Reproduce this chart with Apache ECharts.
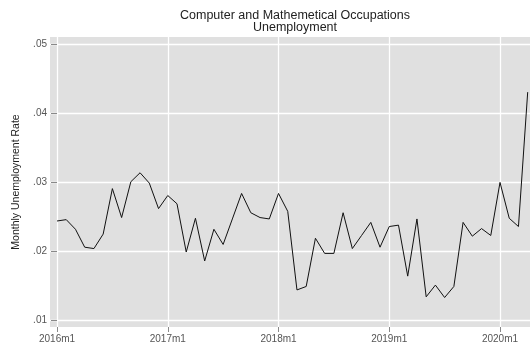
<!DOCTYPE html>
<html>
<head>
<meta charset="utf-8">
<style>
  html, body { margin: 0; padding: 0; background: #ffffff; }
  #chart { width: 530px; height: 349px; }
</style>
<script src="https://cdn.jsdelivr.net/npm/echarts@6/dist/echarts.min.js"></script>
</head>
<body>
<div id="chart"></div>
<script>
// Monthly periods 2016m1 .. 2020m4
const years = [2016, 2017, 2018, 2019, 2020];
const months = [];
for (const y of years) {
  for (let m = 1; m <= 12; m++) {
    if (y === 2020 && m > 4) break;
    months.push(y + 'm' + m);
  }
}

// Monthly unemployment rate, computer and mathematical occupations
const rates = [
  0.0244, 0.0246, 0.0232, 0.0206, 0.0204, 0.0225, 0.0291, 0.0249, 0.0301, 0.0314, 0.0299, 0.0262,
  0.0281, 0.0269, 0.0199, 0.0248, 0.0186, 0.0232, 0.0210, 0.0247, 0.0284, 0.0256, 0.0249, 0.0247,
  0.0284, 0.0258, 0.0144, 0.0149, 0.0219, 0.0197, 0.0197, 0.0256, 0.0204, 0.0223, 0.0242, 0.0206,
  0.0236, 0.0238, 0.0164, 0.0247, 0.0134, 0.0151, 0.0133, 0.0149, 0.0242, 0.0222, 0.0233, 0.0223,
  0.0300, 0.0248, 0.0236, 0.0431
];

// Tick positions (month index) and labels on the time axis
const xTickIndex = [0, 12, 24, 36, 48];
const xTickLabels = ['2016m1', '2017m1', '2018m1', '2019m1', '2020m1'];

// Tick values on the rate axis
const yTicks = [0.01, 0.02, 0.03, 0.04, 0.05];

const points = rates.map((v, i) => [i, v]);

const chart = echarts.init(document.getElementById('chart'), null, { renderer: 'canvas' });

const fontFamily = '"Liberation Sans", Arial, Helvetica, sans-serif';

chart.setOption({
  animation: false,
  backgroundColor: '#ffffff',
  title: {
    text: 'Computer and Mathemetical Occupations\nUnemployment',
    left: 290,
    textAlign: 'center',
    top: 5,
    textStyle: {
      fontFamily: fontFamily,
      fontSize: 12.5,
      fontWeight: 'normal',
      color: '#222222',
      lineHeight: 12
    }
  },
  grid: {
    left: 50,
    right: 0,
    top: 37,
    bottom: 22,
    show: true,
    backgroundColor: '#e0e0e0',
    borderWidth: 0,
    containLabel: false
  },
  xAxis: {
    type: 'value',
    min: -0.76,
    max: 51.25,
    axisLine: { show: false },
    axisTick: {
      show: true,
      customValues: xTickIndex,
      length: 5,
      lineStyle: { color: '#888888', width: 1 }
    },
    axisLabel: {
      customValues: xTickIndex,
      formatter: (v) => xTickLabels[xTickIndex.indexOf(Math.round(v))] || '',
      fontFamily: fontFamily,
      fontSize: 10,
      color: '#555555',
      margin: 7
    },
    splitLine: { show: true, lineStyle: { color: '#ffffff', width: 1.3 } }
  },
  yAxis: {
    type: 'value',
    min: 0.00902,
    max: 0.0511,
    name: 'Monthly Unemployment Rate',
    nameLocation: 'middle',
    nameRotate: 90,
    nameGap: 28,
    nameTextStyle: {
      fontFamily: fontFamily,
      fontSize: 10.5,
      color: '#222222'
    },
    axisLine: { show: false },
    axisTick: {
      show: true,
      customValues: yTicks,
      length: 6,
      inside: false,
      lineStyle: { color: '#888888', width: 1 }
    },
    axisLabel: {
      customValues: yTicks,
      formatter: (v) => v.toFixed(2).replace(/^0/, ''),
      fontFamily: fontFamily,
      fontSize: 10,
      color: '#555555',
      margin: 3
    },
    splitLine: { show: true, lineStyle: { color: '#ffffff', width: 1.3 } }
  },
  series: [{
    type: 'line',
    data: points,
    showSymbol: false,
    symbol: 'none',
    lineStyle: { color: '#111111', width: 1 },
    z: 3
  }]
});
</script>
</body>
</html>
